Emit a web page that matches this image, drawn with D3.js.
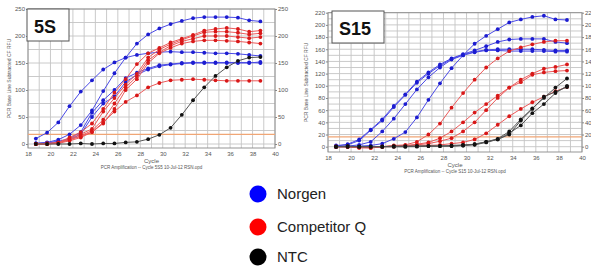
<!DOCTYPE html>
<html>
<head>
<meta charset="utf-8">
<script src="https://cdn.jsdelivr.net/npm/d3@7"></script>
<style>
  body { margin: 0; background: #fff; }
  svg { display: block; font-family: "Liberation Sans", Arial, sans-serif; }
</style>
</head>
<body>
<div id="chart"></div>
<script>
// cycles at which the instrument read fluorescence
var cycles = [18.7, 19.7, 20.7, 21.7, 22.7, 23.7, 24.7, 25.7, 26.7, 27.7, 28.7,
              29.7, 30.7, 31.7, 32.7, 33.7, 34.7, 35.7, 36.7, 37.7, 38.7];

// 5S panel (RFU)
var s5Norgen = [
    [10, 21, 40, 70, 97, 118, 138, 151, 160, 165, 168, 170, 171, 170, 170, 169, 168, 168, 167, 165, 163],
    [1, 3, 8, 18, 35, 62, 98, 131, 160, 186, 203, 214, 222, 228, 233, 235, 235, 235, 234, 229, 227],
    [1, 2, 5, 10, 22, 58, 81, 100, 122, 132, 140, 146, 148, 150, 151, 151, 151, 151, 151, 151, 150],
    [1, 2, 4, 8, 18, 50, 75, 88, 115, 128, 138, 144, 147, 149, 150, 150, 150, 150, 150, 150, 152]
];
var s5CompQ = [
    [0, 1, 3, 12, 22, 38, 65, 95, 120, 148, 168, 178, 188, 195, 202, 210, 213, 215, 213, 208, 210],
    [0, 1, 2, 10, 18, 28, 60, 85, 110, 130, 160, 175, 185, 193, 200, 207, 208, 208, 206, 203, 205],
    [0, 0, 2, 8, 15, 25, 45, 75, 105, 125, 155, 170, 182, 190, 195, 200, 200, 200, 198, 196, 198],
    [0, 0, 1, 6, 12, 22, 38, 65, 100, 120, 150, 168, 178, 186, 190, 192, 192, 191, 190, 188, 186],
    [0, 0, 2, 8, 14, 22, 40, 60, 78, 90, 105, 113, 118, 119, 120, 119, 118, 117, 117, 117, 117]
];
var s5NTC = [
    [0, 0, 0, 0, 1, 0, 1, 1, 3, 4, 9, 17, 30, 54, 81, 105, 126, 142, 154, 160, 161]
];
var s5Threshold = 18;
var s5Ticks = [0, 50, 100, 150, 200, 250];

// S15 panel (RFU)
var s15Norgen = [
    [1, 4, 12, 28, 45, 67, 86, 107, 122, 135, 145, 152, 158, 165, 172, 176, 177, 177, 177, 172, 170],
    [2, 3, 10, 27, 43, 65, 85, 105, 120, 133, 144, 151, 156, 159, 160, 160, 160, 160, 159, 158, 158],
    [0, 1, 3, 8, 25, 46, 70, 94, 114, 130, 143, 150, 155, 158, 158, 157, 157, 157, 157, 156, 156],
    [0, 0, 1, 2, 5, 13, 24, 48, 77, 104, 129, 150, 169, 182, 193, 204, 209, 213, 215, 209, 208]
];
var s15CompQ = [
    [0, 0, -2, -2, 0, 2, 3, 8, 20, 38, 64, 88, 110, 130, 145, 157, 163, 168, 172, 174, 174],
    [0, 0, -1, -2, 0, 1, 2, 4, 7, 14, 25, 40, 56, 70, 84, 97, 110, 120, 128, 131, 135],
    [0, 0, -1, -1, 0, 1, 1, 3, 5, 9, 14, 25, 40, 60, 80, 97, 106, 118, 122, 124, 125],
    [0, 0, -1, -1, 0, 0, 1, 1, 2, 3, 5, 7, 12, 22, 36, 50, 62, 73, 82, 91, 98]
];
var s15NTC = [
    [0, 1, 0, 0, 0, 1, 1, 1, 1, 1, 2, 3, 4, 8, 13, 25, 45, 63, 80, 97, 112],
    [0, 0, 0, 0, 0, 0, 0, 1, 1, 1, 1, 2, 3, 7, 12, 22, 35, 55, 70, 88, 100],
    [0, 0, 0, 0, 0, 0, 0, 0, 1, 1, 1, 2, 4, 8, 12, 20, 43, 62, 82, 90, 98]
];
var s15Threshold = 16;
var s15Ticks = [0, 20, 40, 60, 80, 100, 120, 140, 160, 180, 200, 220];

var xTicks = [18, 20, 22, 24, 26, 28, 30, 32, 34, 36, 38, 40];

var legendNames = ["Norgen", "Competitor Q", "NTC"];
var legendColors = ["#0000ff", "#ff0000", "#000000"];

var svg = d3.select("#chart").append("svg")
    .attr("width", 591)
    .attr("height", 270);

function drawPanel(p) {
    var x = d3.scaleLinear().domain([18, 40]).range([p.left, p.right]);
    var y = d3.scaleLinear().domain([0, p.yMax]).range([p.zeroY, p.topY]);
    var g = svg.append("g");

    // grid
    g.selectAll(".vgrid")
        .data(d3.range(18, 41))
        .enter().append("line")
        .attr("x1", function(d) { return x(d); })
        .attr("x2", function(d) { return x(d); })
        .attr("y1", p.topY)
        .attr("y2", p.bottomY)
        .attr("stroke", "#c4c4c4")
        .attr("stroke-width", 0.9);

    g.selectAll(".hgrid")
        .data(d3.range(0, p.yMax + 1, p.gridStep))
        .enter().append("line")
        .attr("x1", p.left)
        .attr("x2", p.right)
        .attr("y1", function(d) { return y(d); })
        .attr("y2", function(d) { return y(d); })
        .attr("stroke", "#c4c4c4")
        .attr("stroke-width", 0.9);

    // frame
    g.append("rect")
        .attr("x", p.left)
        .attr("y", p.topY)
        .attr("width", p.right - p.left)
        .attr("height", p.bottomY - p.topY)
        .attr("fill", "none")
        .attr("stroke", "#8a8a8a")
        .attr("stroke-width", 0.9);

    // threshold
    g.append("line")
        .attr("x1", p.left)
        .attr("x2", p.right)
        .attr("y1", y(p.threshold))
        .attr("y2", y(p.threshold))
        .attr("stroke", "#f0a676")
        .attr("stroke-width", 1.2);

    // axes
    var yLeft = d3.axisLeft(y).tickValues(p.ticks).tickSize(2).tickPadding(1);
    var yRight = d3.axisRight(y).tickValues(p.ticks).tickSize(2).tickPadding(1);
    var xAxis = d3.axisBottom(x).tickValues(xTicks).tickSize(0).tickPadding(4);

    [g.append("g").attr("transform", "translate(" + p.left + ",0)").call(yLeft),
     g.append("g").attr("transform", "translate(" + p.right + ",0)").call(yRight),
     g.append("g").attr("transform", "translate(0," + p.bottomY + ")").call(xAxis)
    ].forEach(function(a) {
        a.select(".domain").remove();
        a.selectAll("line").attr("stroke", "#888");
        a.selectAll("text").style("font-size", "6px").attr("fill", "#555");
    });

    // curves
    var line = d3.line()
        .x(function(d, i) { return x(cycles[i]); })
        .y(function(d) { return y(d); });

    var groups = [
        { data: p.norgen, line: "#4a4ae6", dot: "#1c1cd0" },
        { data: p.compQ, line: "#ec5a5a", dot: "#d81818" },
        { data: p.ntc, line: "#555555", dot: "#111111" }
    ];
    groups.forEach(function(gr) {
        gr.data.forEach(function(series) {
            g.append("path")
                .attr("d", line(series))
                .attr("fill", "none")
                .attr("stroke", gr.line)
                .attr("stroke-width", 1);
            g.selectAll(null)
                .data(series)
                .enter().append("circle")
                .attr("cx", function(d, i) { return x(cycles[i]); })
                .attr("cy", function(d) { return y(d); })
                .attr("r", 1.9)
                .attr("fill", gr.dot);
        });
    });

    // axis titles
    g.append("text")
        .attr("transform", "translate(" + p.yTitleX + "," + ((p.topY + p.bottomY) / 2) + ") rotate(-90)")
        .attr("text-anchor", "middle")
        .style("font-size", "5px")
        .attr("fill", "#555")
        .text("PCR Base Line Subtracted CF RFU");

    g.append("text")
        .attr("x", (p.left + p.right) / 2)
        .attr("y", p.bottomY + 15)
        .attr("text-anchor", "middle")
        .style("font-size", "6px")
        .attr("fill", "#555")
        .text("Cycle");

    g.append("text")
        .attr("x", (p.left + p.right) / 2)
        .attr("y", p.bottomY + 21)
        .attr("text-anchor", "middle")
        .style("font-size", "4.5px")
        .attr("fill", "#555")
        .text(p.caption);

    // name box
    g.append("rect")
        .attr("x", p.boxX)
        .attr("y", p.boxY)
        .attr("width", p.boxW)
        .attr("height", 32)
        .attr("fill", "#fff")
        .attr("stroke", "#555")
        .attr("stroke-width", 1);

    g.append("text")
        .attr("x", p.boxX + 7)
        .attr("y", p.boxY + 24)
        .style("font-size", "18px")
        .style("font-weight", "bold")
        .attr("fill", "#111")
        .text(p.name);
}

drawPanel({
    name: "5S", left: 28, right: 275, zeroY: 144, topY: 9, bottomY: 148,
    yMax: 250, gridStep: 25, ticks: s5Ticks, threshold: s5Threshold,
    norgen: s5Norgen, compQ: s5CompQ, ntc: s5NTC,
    yTitleX: 11, boxX: 27, boxY: 9, boxW: 42,
    caption: "PCR Amplification -- Cycle 5S5 10-Jul-12 RSN.opd"
});

drawPanel({
    name: "S15", left: 328, right: 582, zeroY: 146.7, topY: 12.7, bottomY: 152,
    yMax: 220, gridStep: 10, ticks: s15Ticks, threshold: s15Threshold,
    norgen: s15Norgen, compQ: s15CompQ, ntc: s15NTC,
    yTitleX: 308, boxX: 332, boxY: 11, boxW: 52,
    caption: "PCR Amplification -- Cycle S15 10-Jul-12 RSN.opd"
});

// legend
var legend = svg.append("g").attr("class", "legend");
legend.selectAll(".legend-item")
    .data(legendNames)
    .enter().append("g")
    .attr("class", "legend-item")
    .attr("transform", function(d, i) { return "translate(258," + [194, 227, 257][i] + ")"; })
    .each(function(d, i) {
        var item = d3.select(this);
        item.append("circle").attr("r", 8.5).attr("fill", legendColors[i]);
        item.append("text")
            .attr("x", 19)
            .attr("dy", "0.35em")
            .style("font-size", "15px")
            .attr("fill", "#222")
            .text(d);
    });
</script>
</body>
</html>
